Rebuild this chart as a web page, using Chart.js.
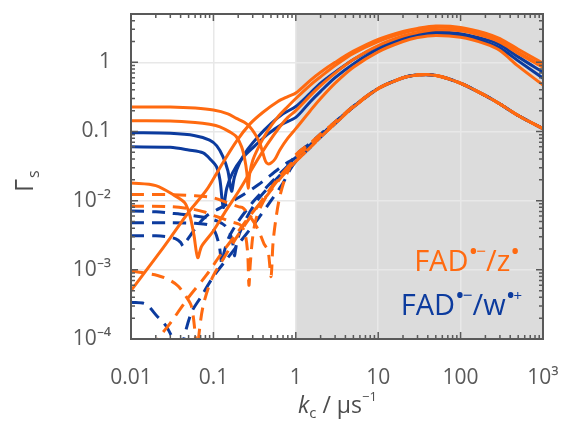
<!DOCTYPE html>
<html>
<head>
<meta charset="utf-8">
<script src="https://cdn.jsdelivr.net/npm/chart.js@4.4.0/dist/chart.umd.min.js"></script>
<style>
  html, body { margin: 0; background: #fff; }
</style>
</head>
<body>
<canvas id="chart" width="562" height="441"></canvas>
<script>
// axis ticks
const xTickVals = [0.01, 0.1, 1, 10, 100, 1000]
const xTickText = ['0.01', '0.1', '1', '10', '100', '10³']
const yTickVals = [1e-4, 1e-3, 1e-2, 0.1, 1]
const yTickText = ['10⁻⁴', '10⁻³', '10⁻²', '0.1', '1']
const shadeFrom = 1

// high k part, shared k values
const kHigh = [1, 1.5, 2, 3, 5, 10, 20, 30, 50, 100, 200, 300, 500, 1000]
const tailOD = [0.36, 0.55, 0.72, 1.0, 1.45, 2.15, 2.8, 3.1, 3.35, 3.2, 2.65, 2.2, 1.55, 0.97]
const tailOB = [0.30, 0.47, 0.62, 0.9, 1.35, 2.0, 2.65, 2.95, 3.2, 3.05, 2.5, 2.05, 1.4, 0.88]
const tailOC = [0.20, 0.33, 0.46, 0.7, 1.1, 1.75, 2.4, 2.7, 2.95, 2.85, 2.35, 1.95, 1.35, 0.85]
const tailOA = [0.11, 0.2, 0.3, 0.5, 0.85, 1.42, 2.0, 2.28, 2.45, 2.3, 1.85, 1.48, 0.88, 0.47]
const tailBA = [0.23, 0.36, 0.5, 0.72, 1.1, 1.7, 2.3, 2.55, 2.75, 2.6, 2.15, 1.8, 1.2, 0.72]
const tailBB = [0.16, 0.27, 0.38, 0.6, 0.95, 1.55, 2.15, 2.42, 2.6, 2.45, 1.98, 1.62, 1.05, 0.59]
const tailL1 = [0.046, 0.068, 0.092, 0.138, 0.232, 0.42, 0.6, 0.66, 0.65, 0.5, 0.33, 0.25, 0.17, 0.11]
const tailL2 = [0.042, 0.064, 0.088, 0.135, 0.229, 0.418, 0.598, 0.658, 0.648, 0.498, 0.33, 0.25, 0.17, 0.11]
const tailL3 = [0.037, 0.059, 0.083, 0.13, 0.225, 0.415, 0.596, 0.656, 0.646, 0.497, 0.33, 0.25, 0.17, 0.11]

// low k part, [k, gamma]
// solid orange (FAD/Z)
const lowOD = [[0.01, 5e-4], [0.02, 1.5e-3], [0.03, 2.9e-3], [0.05, 6.8e-3], [0.083, 0.0144], [0.12, 0.03], [0.19, 0.072], [0.28, 0.13], [0.4, 0.19], [0.6, 0.27], [0.8, 0.32]]
const lowOA = [[0.01, 0.227], [0.03, 0.226], [0.06, 0.218], [0.1, 0.204], [0.15, 0.18], [0.19, 0.155], [0.24, 0.135], [0.276, 0.117], [0.32, 0.092], [0.366, 0.068], [0.4, 0.048], [0.43, 0.037], [0.46, 0.034], [0.5, 0.035], [0.56, 0.04], [0.64, 0.054], [0.8, 0.08]]
const lowOB = [[0.01, 0.143], [0.03, 0.142], [0.06, 0.135], [0.09, 0.127], [0.12, 0.117], [0.16, 0.098], [0.19, 0.084], [0.22, 0.06], [0.24, 0.04], [0.255, 0.025], [0.264, 0.0152], [0.275, 0.024], [0.3, 0.038], [0.35, 0.058], [0.45, 0.1], [0.6, 0.16], [0.8, 0.23]]
const lowOC = [[0.01, 0.018], [0.02, 0.0165], [0.034, 0.0118], [0.045, 0.0093], [0.052, 0.006], [0.058, 0.0032], [0.0645, 0.0015], [0.072, 0.0022], [0.099, 0.0036], [0.14, 0.007], [0.208, 0.0144], [0.3, 0.03], [0.45, 0.065], [0.65, 0.12], [0.8, 0.16]]
// solid blue (FAD/W)
const lowBA = [[0.01, 0.096], [0.03, 0.094], [0.06, 0.087], [0.09, 0.075], [0.11, 0.062], [0.131, 0.043], [0.15, 0.027], [0.166, 0.0137], [0.18, 0.022], [0.21, 0.036], [0.26, 0.055], [0.35, 0.085], [0.5, 0.13], [0.7, 0.18]]
const lowBB = [[0.01, 0.060], [0.03, 0.059], [0.05, 0.054], [0.075, 0.049], [0.095, 0.038], [0.109, 0.031], [0.12, 0.02], [0.132, 0.008], [0.145, 0.015], [0.17, 0.025], [0.22, 0.04], [0.3, 0.058], [0.45, 0.09], [0.7, 0.13]]
// dashed orange
const lowDOA = [[0.01, 0.0123], [0.03, 0.0122], [0.06, 0.0118], [0.1, 0.011], [0.145, 0.0094], [0.2, 0.0082], [0.23, 0.0078], [0.29, 0.0055], [0.35, 0.0038], [0.41, 0.0024], [0.46, 0.0019], [0.5, 0.0008], [0.53, 0.0025], [0.58, 0.006], [0.64, 0.0115], [0.75, 0.022], [0.87, 0.032]]
const lowDOB = [[0.01, 0.0083], [0.03, 0.0082], [0.057, 0.0075], [0.08, 0.0068], [0.096, 0.0062], [0.13, 0.0055], [0.16, 0.005], [0.21, 0.0045], [0.24, 0.0035], [0.26, 0.0018], [0.27, 0.0006], [0.28, 0.0012], [0.3, 0.003], [0.33, 0.0055], [0.4, 0.0095], [0.55, 0.017], [0.75, 0.027]]
const lowDOC = [[0.01, 0.00096], [0.021, 0.00083], [0.03, 0.0007], [0.0375, 0.00058], [0.046, 0.00042], [0.054, 0.0003], [0.06, 0.00012], [0.063, 0.00005], [0.067, 0.00012], [0.075, 0.0003], [0.095, 0.00073], [0.13, 0.0014], [0.2, 0.0032], [0.3, 0.0065], [0.45, 0.013], [0.65, 0.023], [0.85, 0.033]]
const lowDOD = [[0.018, 0.00007], [0.0212, 0.0001], [0.03, 0.00017], [0.05, 0.0004], [0.083, 0.00085], [0.12, 0.0016], [0.2, 0.0036], [0.3, 0.0068], [0.45, 0.012], [0.65, 0.021], [0.85, 0.03]]
// dashed blue
const lowDBA = [[0.01, 0.0071], [0.02, 0.0069], [0.03, 0.0066], [0.05, 0.0062], [0.08, 0.0057], [0.11, 0.0051], [0.14, 0.0043], [0.16, 0.0033], [0.172, 0.0024], [0.18, 0.0016], [0.19, 0.0023], [0.21, 0.0035], [0.26, 0.006], [0.35, 0.0105], [0.5, 0.017], [0.7, 0.026], [0.85, 0.034]]
const lowDBB = [[0.01, 0.0048], [0.03, 0.0048], [0.06, 0.0047], [0.09, 0.0044], [0.105, 0.0035], [0.118, 0.0022], [0.127, 0.0012], [0.135, 0.0018], [0.155, 0.003], [0.2, 0.005], [0.3, 0.0095], [0.45, 0.016], [0.65, 0.025], [0.85, 0.034]]
const lowDBC = [[0.01, 0.0031], [0.02, 0.0031], [0.028, 0.003], [0.035, 0.0028], [0.04, 0.0025], [0.043, 0.0022], [0.047, 0.0026], [0.055, 0.0034], [0.065, 0.0045], [0.085, 0.0062], [0.12, 0.0078], [0.2, 0.011], [0.35, 0.017], [0.6, 0.028], [0.8, 0.036]]
const lowDBD = [[0.01, 0.00034], [0.015, 0.00032], [0.021, 0.00021], [0.025, 0.00017], [0.028, 0.00014], [0.032, 0.0001], [0.036, 0.00006], [0.04, 0.00004], [0.043, 0.00009], [0.054, 0.00024], [0.07, 0.0004], [0.1, 0.0008], [0.15, 0.0015], [0.22, 0.0027], [0.35, 0.0055], [0.5, 0.01], [0.7, 0.018], [0.85, 0.028]]

const orange = '#ff6a10'
const blue = '#0c3b9e'

function curve(low, tail) {
  const pts = low.map(p => ({ x: p[0], y: p[1] }))
  kHigh.forEach((k, i) => pts.push({ x: k, y: tail[i] }))
  return pts
}

function line(low, tail, color, dashed) {
  return {
    data: curve(low, tail),
    borderColor: color,
    borderWidth: 3,
    borderDash: dashed ? [13, 8] : [],
    pointRadius: 0,
    showLine: true,
    tension: 0.3,
    fill: false,
    clip: 0
  }
}

function isDecade(v) {
  return Math.abs(Math.log10(v) - Math.round(Math.log10(v))) < 1e-6
}

function allTicks(min, max) {
  const out = []
  for (let e = Math.round(Math.log10(min)); e < Math.round(Math.log10(max)) + 1; e++) {
    for (let m = 1; m < 10; m++) {
      const v = m * Math.pow(10, e)
      if (v >= min * 0.999 && v <= max * 1.001) out.push(+v.toPrecision(6))
    }
  }
  return out
}

function labelFor(v, vals, texts) {
  for (let i = 0; i < vals.length; i++) {
    if (Math.abs(Math.log10(v) - Math.log10(vals[i])) < 1e-6) return texts[i]
  }
  return ''
}

function drawRuns(ctx, x, y, runs) {
  for (const r of runs) {
    ctx.font = r.f
    ctx.fillText(r.t, x, y + (r.dy || 0))
    x += ctx.measureText(r.t).width + (r.gap || 0)
  }
  return x
}

function runsWidth(ctx, runs) {
  let w = 0
  for (const r of runs) {
    ctx.font = r.f
    w += ctx.measureText(r.t).width + (r.gap || 0)
  }
  return w
}

function noPad(s) {
  s.paddingTop = 0
  s.paddingBottom = 0
  s.paddingLeft = 0
  s.paddingRight = 0
}

const decor = {
  id: 'decor',
  beforeDraw(chart) {
    const { ctx, chartArea: a, scales: { x } } = chart
    const x0 = x.getPixelForValue(shadeFrom)
    ctx.save()
    ctx.fillStyle = '#dcdcdc'
    ctx.fillRect(x0, a.top, a.right - x0, a.bottom - a.top)
    ctx.restore()
  },
  afterDraw(chart) {
    const { ctx, chartArea: a, scales: { x, y } } = chart
    ctx.save()
    ctx.strokeStyle = '#595959'
    ctx.lineWidth = 1.5
    ctx.beginPath()
    x.ticks.forEach(t => {
      const px = x.getPixelForValue(t.value)
      const len = isDecade(t.value) ? 7 : 4
      ctx.moveTo(px, a.bottom); ctx.lineTo(px, a.bottom - len)
      ctx.moveTo(px, a.top); ctx.lineTo(px, a.top + len)
    })
    y.ticks.forEach(t => {
      const py = y.getPixelForValue(t.value)
      const len = isDecade(t.value) ? 7 : 4
      ctx.moveTo(a.left, py); ctx.lineTo(a.left + len, py)
      ctx.moveTo(a.right, py); ctx.lineTo(a.right - len, py)
    })
    ctx.stroke()
    ctx.lineWidth = 2
    ctx.strokeRect(a.left, a.top, a.right - a.left, a.bottom - a.top)

    // axis titles
    ctx.fillStyle = '#4d4d4d'
    ctx.textBaseline = 'alphabetic'
    ctx.textAlign = 'left'
    drawRuns(ctx, 298, 413, [
      { t: 'k', f: 'italic 23px "Open Sans"' },
      { t: 'c', f: '15px "Open Sans"', dy: 5, gap: 6 },
      { t: '/ μs', f: '23px "Open Sans"' },
      { t: '−1', f: '13px "Open Sans"', dy: -12 }
    ])
    ctx.save()
    ctx.translate(33, 192)
    ctx.rotate(-Math.PI / 2)
    drawRuns(ctx, 0, 0, [
      { t: 'Γ', f: '25px "Open Sans"', gap: 1 },
      { t: 's', f: '16px "Open Sans"', dy: 6 }
    ])
    ctx.restore()

    // series labels
    const dot = '26px "Open Sans"'
    const sup = '17px "Open Sans"'
    const big = '29px "Open Sans"'
    const oRuns = [
      { t: 'FAD', f: big }, { t: '•', f: dot, dy: -11, gap: -2 }, { t: '−', f: sup, dy: -14 },
      { t: '/z', f: big }, { t: '•', f: dot, dy: -11 }
    ]
    const bRuns = [
      { t: 'FAD', f: big }, { t: '•', f: dot, dy: -11, gap: -2 }, { t: '−', f: sup, dy: -14 },
      { t: '/w', f: big }, { t: '•', f: dot, dy: -11, gap: -2 }, { t: '+', f: '15px "Open Sans"', dy: -14 }
    ]
    ctx.fillStyle = orange
    drawRuns(ctx, 520 - runsWidth(ctx, oRuns), 271, oRuns)
    ctx.fillStyle = blue
    drawRuns(ctx, 522 - runsWidth(ctx, bRuns), 315, bRuns)
    ctx.restore()
  }
}

const tickFont = { family: 'Open Sans', size: 21 }
const gridColor = c => (c.tick && isDecade(c.tick.value)) ? '#e8e8e8' : 'rgba(0,0,0,0)'

new Chart(document.getElementById('chart'), {
  type: 'scatter',
  data: {
    datasets: [
      line(lowOD, tailOD, orange, false),
      line(lowOB, tailOB, orange, false),
      line(lowOC, tailOC, orange, false),
      line(lowOA, tailOA, orange, false),
      line(lowDOA, tailL1, orange, true),
      line(lowDOB, tailL2, orange, true),
      line(lowDOC, tailL3, orange, true),
      line(lowDOD, tailL3, orange, true),
      line(lowBA, tailBA, blue, false),
      line(lowBB, tailBB, blue, false),
      line(lowDBA, tailL1, blue, true),
      line(lowDBB, tailL2, blue, true),
      line(lowDBC, tailL2, blue, true),
      line(lowDBD, tailL3, blue, true)
    ]
  },
  options: {
    responsive: false,
    animation: false,
    layout: { padding: { top: 14, right: 19, left: 0, bottom: 0 } },
    plugins: { legend: { display: false }, tooltip: { enabled: false } },
    scales: {
      x: {
        type: 'logarithmic',
        min: 0.01,
        max: 1000,
        afterBuildTicks: s => { s.ticks = allTicks(0.01, 1000).map(v => ({ value: v })) },
        afterFit: s => { s.height = 102; noPad(s) },
        grid: { color: gridColor, lineWidth: 1.5, drawTicks: false },
        border: { display: false },
        ticks: {
          autoSkip: false,
          maxRotation: 0,
          padding: 26,
          color: '#595959',
          font: tickFont,
          callback: v => labelFor(v, xTickVals, xTickText)
        }
      },
      y: {
        type: 'logarithmic',
        min: 1e-4,
        max: 5,
        afterBuildTicks: s => { s.ticks = allTicks(1e-4, 5).map(v => ({ value: v })) },
        afterFit: s => { s.width = 131; noPad(s) },
        grid: { color: gridColor, lineWidth: 1.5, drawTicks: false },
        border: { display: false },
        ticks: {
          autoSkip: false,
          padding: 20,
          color: '#595959',
          font: tickFont,
          callback: v => labelFor(v, yTickVals, yTickText)
        }
      }
    }
  },
  plugins: [decor]
})
</script>
</body>
</html>
